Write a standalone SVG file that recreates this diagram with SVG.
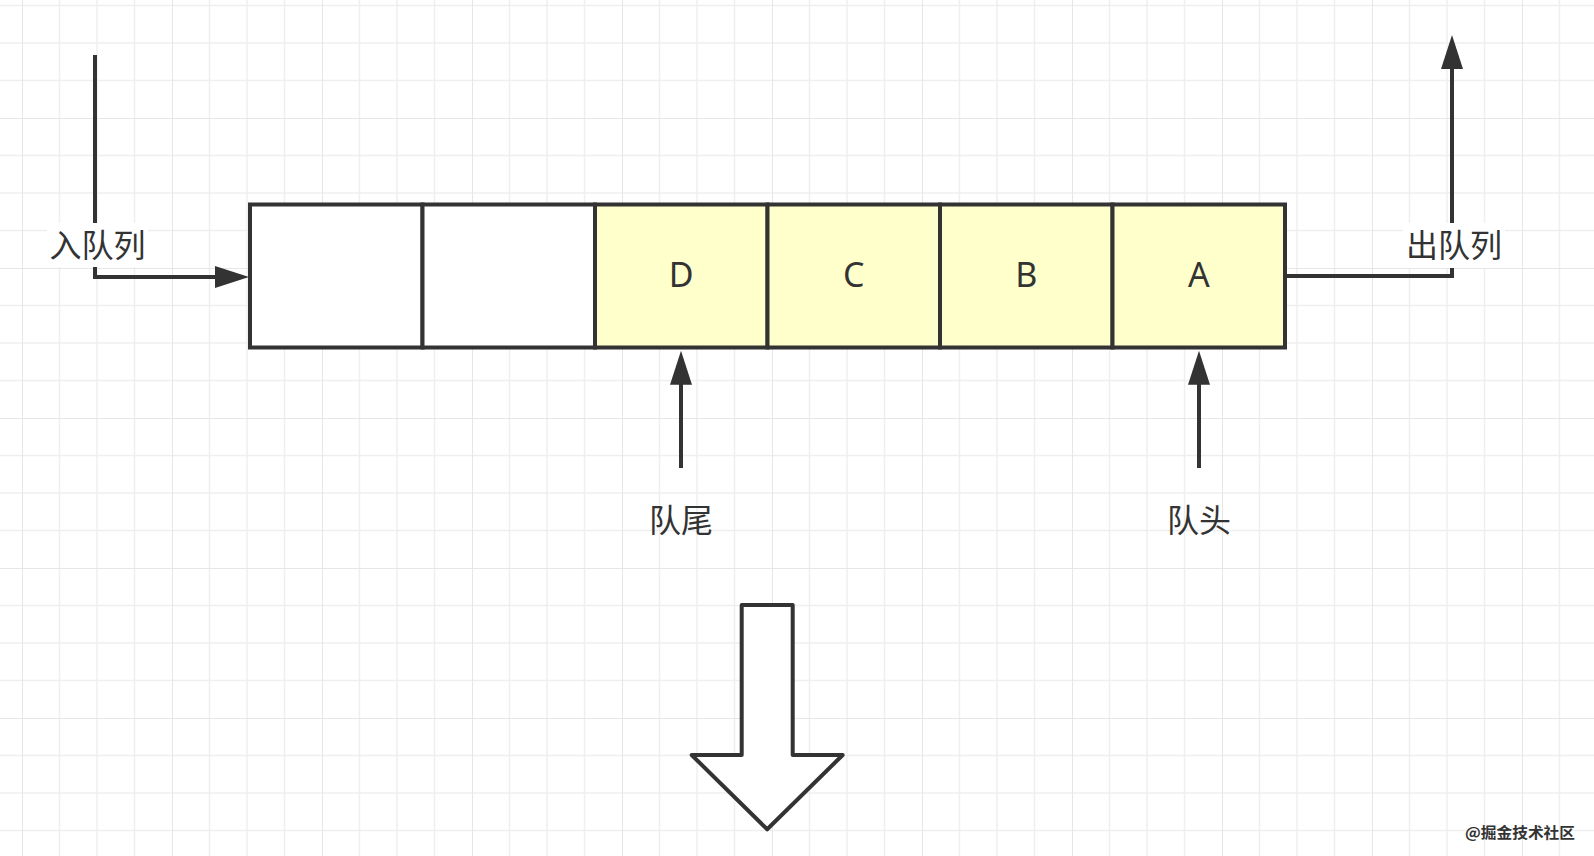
<svg xmlns="http://www.w3.org/2000/svg" width="1594" height="856" viewBox="0 0 1594 856">
<style>
.cell{stroke:#333333;stroke-width:4;}
.empty{fill:#ffffff;}
.full{fill:#ffffcc;}
.lbl{font-family:"Noto Sans CJK SC","Noto Sans",sans-serif;font-size:32px;fill:#333333;text-anchor:middle;}
.let{font-family:"Noto Sans","Noto Sans CJK SC",sans-serif;font-size:34px;fill:#333333;text-anchor:middle;}
.conn{fill:none;stroke:#333333;stroke-width:4;stroke-linejoin:miter;}
</style>
<defs>
<pattern id="grid" x="22" y="118" width="150" height="150" patternUnits="userSpaceOnUse">
<rect width="150" height="150" fill="#ffffff"/>
<g stroke="#efefef" stroke-width="1.5">
<line x1="37.5" y1="0" x2="37.5" y2="150"/>
<line x1="75" y1="0" x2="75" y2="150"/>
<line x1="112.5" y1="0" x2="112.5" y2="150"/>
<line x1="0" y1="37.5" x2="150" y2="37.5"/>
<line x1="0" y1="75" x2="150" y2="75"/>
<line x1="0" y1="112.5" x2="150" y2="112.5"/>
</g>
<g stroke="#e6e6e6" stroke-width="2">
<line x1="0" y1="0" x2="0" y2="150"/>
<line x1="0" y1="0" x2="150" y2="0"/>
</g>
</pattern>
<marker id="ah" markerUnits="userSpaceOnUse" markerWidth="40" markerHeight="26" refX="2" refY="11" orient="auto" viewBox="0 0 40 26">
<path d="M0,0 L34,11 L0,22 Z" fill="#333333"/>
</marker>
</defs>
<rect width="1594" height="856" fill="url(#grid)"/>

<g id="connectors">
<path id="enqueue" class="conn" d="M95,55 L95,277 L217,277" marker-end="url(#ah)"/>
<path id="dequeue" class="conn" d="M1285,276 L1452,276 L1452,67" marker-end="url(#ah)"/>
<path id="tail-ptr" class="conn" d="M681,468 L681,382.7" marker-end="url(#ah)"/>
<path id="head-ptr" class="conn" d="M1199,468 L1199,382.7" marker-end="url(#ah)"/>
</g>

<g id="label-enqueue">
<rect x="47" y="223" width="101" height="44" fill="#ffffff"/>
<text class="lbl" x="97.5" y="257">入队列</text>
</g>
<g id="label-dequeue">
<rect x="1403" y="223" width="102" height="45" fill="#ffffff"/>
<text class="lbl" x="1454" y="257">出队列</text>
</g>

<g id="cell1"><rect class="cell empty" x="250" y="204.5" width="172.5" height="143"/></g>
<g id="cell2"><rect class="cell empty" x="422.5" y="204.5" width="172.5" height="143"/></g>
<g id="cellD"><rect class="cell full" x="595" y="204.5" width="172.5" height="143"/><text class="let" x="681.25" y="287">D</text></g>
<g id="cellC"><rect class="cell full" x="767.5" y="204.5" width="172.5" height="143"/><text class="let" x="853.75" y="287">C</text></g>
<g id="cellB"><rect class="cell full" x="940" y="204.5" width="172.5" height="143"/><text class="let" x="1026.25" y="287">B</text></g>
<g id="cellA"><rect class="cell full" x="1112.5" y="204.5" width="172.5" height="143"/><text class="let" x="1198.75" y="287">A</text></g>

<g id="label-tail"><text class="lbl" x="681" y="532">队尾</text></g>
<g id="label-head"><text class="lbl" x="1199" y="532">队头</text></g>

<g id="big-arrow">
<path d="M741.7,605 L792.7,605 L792.7,755 L842.7,755 L767.2,829.3 L691.7,755 L741.7,755 Z" fill="#ffffff" stroke="#333333" stroke-width="4" stroke-linejoin="round"/>
</g>

<g id="watermark">
<text x="1465" y="838" font-family="'Noto Sans CJK SC',sans-serif" font-size="15" font-weight="bold" fill="#333333" textLength="110" lengthAdjust="spacingAndGlyphs">@掘金技术社区</text>
</g>
</svg>
